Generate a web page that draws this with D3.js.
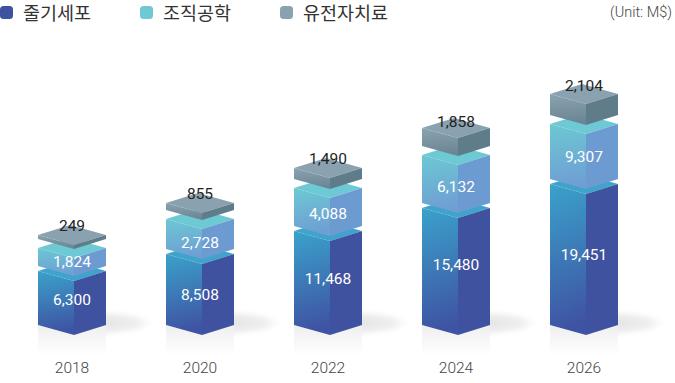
<!DOCTYPE html>
<html>
<head>
<meta charset="utf-8">
<script src="https://cdn.jsdelivr.net/npm/d3@7"></script>
<style>
  html, body { margin: 0; padding: 0; background: #fff; }
  svg { display: block; }
  text { font-family: Roboto, sans-serif; }
</style>
</head>
<body>
<div id="chart"></div>
<script>
const years = ["2018", "2020", "2022", "2024", "2026"]
const stemCell = [6300, 8508, 11468, 15480, 19451]
const tissueEng = [1824, 2728, 4088, 6132, 9307]
const geneTherapy = [249, 855, 1490, 1858, 2104]
const legendNames = ["줄기세포", "조직공학", "유전자치료"]
const unitLabel = "(Unit: M$)"

const width = 675
const height = 383
const baseY = 325
const halfDepth = 10
const leftW = 36
const rightW = 32

const svg = d3.select("#chart").append("svg")
    .attr("width", width)
    .attr("height", height)

const defs = svg.append("defs")

function addGradient(id, top, bottom){
    const g = defs.append("linearGradient")
        .attr("id", id)
        .attr("x1", "0").attr("y1", "0")
        .attr("x2", "0.1").attr("y2", "1")
    g.append("stop").attr("offset", "0%").attr("stop-color", top)
    g.append("stop").attr("offset", "100%").attr("stop-color", bottom)
}
addGradient("faceStem", "#3aa2cb", "#3f53a3")
addGradient("faceTissue", "#6cc8d3", "#6f9ed4")
addGradient("faceGene", "#8ba3b0", "#6a8594")

const shadowGrad = defs.append("radialGradient").attr("id", "floorShadow")
shadowGrad.append("stop").attr("offset", "0%").attr("stop-color", "#e2e2e2")
shadowGrad.append("stop").attr("offset", "70%").attr("stop-color", "#eeeeee")
shadowGrad.append("stop").attr("offset", "100%").attr("stop-color", "#ffffff").attr("stop-opacity", 0)

defs.append("filter").attr("id", "soft")
    .attr("x", "-20%").attr("y", "-50%").attr("width", "140%").attr("height", "200%")
    .append("feGaussianBlur").attr("stdDeviation", 2)

const reflectGrad = defs.append("linearGradient").attr("id", "reflect")
    .attr("x1", "0").attr("y1", "0").attr("x2", "0").attr("y2", "1")
reflectGrad.append("stop").attr("offset", "0%").attr("stop-color", "#efefef")
reflectGrad.append("stop").attr("offset", "100%").attr("stop-color", "#ffffff")

// the picture's blocks are not to scale, so each series gets its own piecewise scale
const stemScale = d3.scaleLinear().domain([0, ...stemCell]).range([0, 54, 71, 94, 117, 141])
const tissueScale = d3.scaleLinear().domain([0, ...tissueEng]).range([0, 18, 30, 38, 48, 55])
const geneScale = d3.scaleLinear().domain([0, ...geneTherapy]).range([0, 4, 7, 11, 18, 21])

const xScale = d3.scalePoint().domain(years).range([72, 584])

const series = [
    {values: stemCell, scale: stemScale, gap: 0, face: "url(#faceStem)", side: "#3f52a0", top: "#3ea4cc", label: "#fff", nudge: [1, 5, 0, -2, 0]},
    {values: tissueEng, scale: tissueScale, gap: 5, face: "url(#faceTissue)", side: "#6c9bd2", top: "#6dc9d3", label: "#fff", nudge: [4, 8, 6, 7, 4.5]},
    {values: geneTherapy, scale: geneScale, gap: 9, face: "url(#faceGene)", side: "#5f7c8b", top: "#8aa2af", label: "#222", nudge: [0, 0, 0, 3, 1]}
]

function poly(points){
    return points.map(p => p.join(",")).join(" ")
}

// floor shadows and reflections go first so every bar sits on top of them
svg.selectAll(".shadow")
    .data(years)
    .enter()
    .append("ellipse")
    .attr("class", "shadow")
    .attr("cx", d => xScale(d) + 21)
    .attr("cy", baseY - 2)
    .attr("rx", 65)
    .attr("ry", 13)
    .attr("fill", "url(#floorShadow)")
    .attr("filter", "url(#soft)")

svg.selectAll(".reflection")
    .data(years)
    .enter()
    .append("polygon")
    .attr("class", "reflection")
    .attr("points", d => {
        const l = xScale(d) - 34
        return poly([[l, baseY], [l + leftW, baseY + halfDepth], [l + leftW + rightW, baseY], [l + leftW + rightW, 356], [l, 356]])
    })
    .attr("fill", "url(#reflect)")

years.forEach((year, i) => {
    const left = xScale(year) - 34
    const mid = left + leftW
    const right = mid + rightW
    const back = left + rightW
    const barG = svg.append("g").attr("id", "bar" + year)
    let bottom = baseY

    series.forEach((s, k) => {
        bottom = bottom - s.gap
        const v = s.values[i]
        const top = bottom - s.scale(v)

        barG.append("polygon")
            .attr("points", poly([[left, top], [back, top - halfDepth], [right, top], [mid, top + halfDepth]]))
            .attr("fill", s.top)
        barG.append("polygon")
            .attr("points", poly([[left, top], [mid, top + halfDepth], [mid, bottom + halfDepth], [left, bottom]]))
            .attr("fill", s.face)
        barG.append("polygon")
            .attr("points", poly([[mid, top + halfDepth], [right, top], [right, bottom], [mid, bottom + halfDepth]]))
            .attr("fill", s.side)

        // labels: middle of block for the lower two, on the back corner for the top one
        let labelY = k === 2 ? top - halfDepth : (top + bottom) / 2
        labelY += s.nudge[i]

        barG.append("text")
            .attr("class", "value")
            .attr("x", xScale(year))
            .attr("y", labelY)
            .attr("dy", "0.36em")
            .attr("text-anchor", "middle")
            .attr("font-size", 15.5)
            .attr("fill", s.label)
            .text(d3.format(",")(v))

        bottom = top
    })
})

svg.selectAll(".year")
    .data(years)
    .enter()
    .append("text")
    .attr("class", "year")
    .attr("x", d => xScale(d))
    .attr("y", 367)
    .attr("dy", "0.36em")
    .attr("text-anchor", "middle")
    .attr("font-size", 15.5)
    .attr("font-weight", 300)
    .attr("fill", "#444")
    .text(d => d)

const legendX = [0, 140, 280]
const legendColors = ["#3f52a0", "#6dc9d3", "#8aa2af"]

legendNames.forEach((name, i) => {
    svg.append("rect")
        .attr("x", legendX[i])
        .attr("y", 6)
        .attr("width", 13)
        .attr("height", 13)
        .attr("rx", 3.5)
        .attr("fill", legendColors[i])
    svg.append("text")
        .attr("x", legendX[i] + 23)
        .attr("y", 13)
        .attr("dy", "0.36em")
        .attr("font-size", 18.5)
        .style("font-family", "'Noto Sans CJK KR', sans-serif")
        .attr("fill", "#333")
        .text(name)
})

svg.append("text")
    .attr("x", 672)
    .attr("y", 12)
    .attr("dy", "0.36em")
    .attr("text-anchor", "end")
    .attr("font-size", 14.5)
    .attr("font-weight", 300)
    .attr("fill", "#444")
    .text(unitLabel)
</script>
</body>
</html>
